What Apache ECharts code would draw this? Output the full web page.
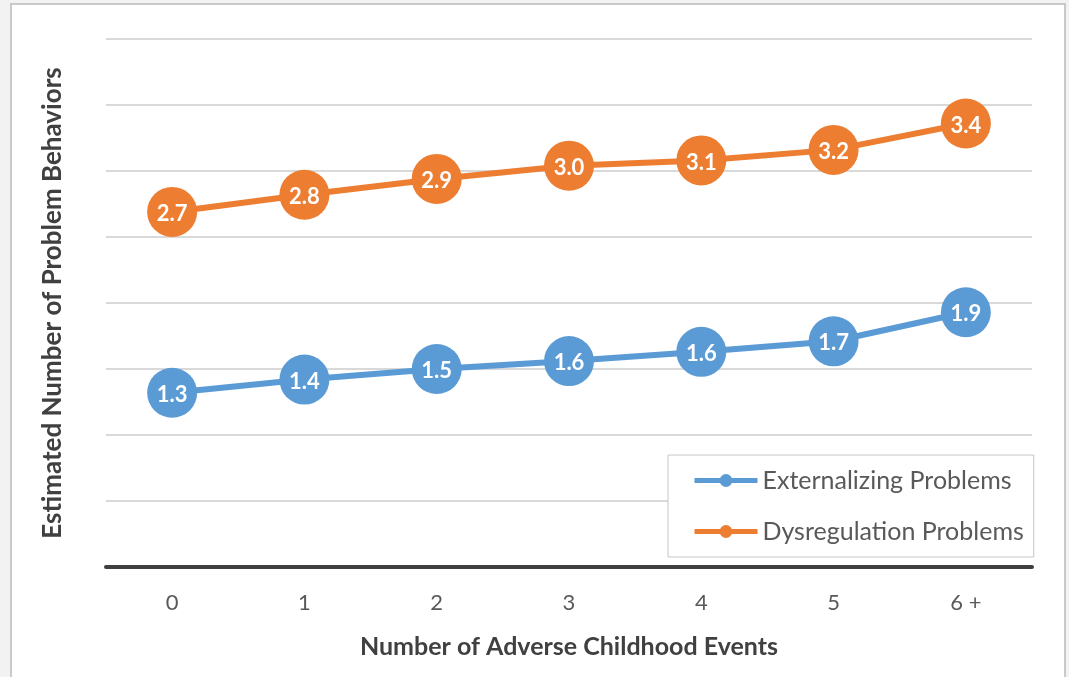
<!DOCTYPE html>
<html>
<head>
<meta charset="utf-8">
<script src="https://cdn.jsdelivr.net/npm/echarts@6/dist/echarts.min.js"></script>
<style>
  html, body { margin: 0; padding: 0; background: #f2f2f2; }
  #frame { position: absolute; left: 10px; top: 3px; width: 1052px; height: 690px;
           background: #ffffff; border: 2px solid #c9c9c9; }
  #chart { position: absolute; left: 0; top: 0; width: 1069px; height: 677px; }
</style>
</head>
<body>
<div id="frame"></div>
<div id="chart"></div>
<script>
// Number of adverse childhood events (x categories)
const categories = ['0', '1', '2', '3', '4', '5', '6 +'];

// Estimated number of problem behaviors per group
const externalizing = [1.32, 1.42, 1.50, 1.56, 1.63, 1.71, 1.93];
const dysregulation = [2.69, 2.82, 2.94, 3.04, 3.08, 3.16, 3.36];

const seriesNames = ['Externalizing Problems', 'Dysregulation Problems'];
const seriesColors = ['#5b9bd5', '#ed7d31'];

const FONT = 'Lato, "Open Sans", "DejaVu Sans", sans-serif';

function lineSeries(name, data, color) {
  return {
    name: name,
    type: 'line',
    data: data,
    symbol: 'circle',
    symbolSize: 50,
    lineStyle: { color: color, width: 6 },
    itemStyle: { color: color },
    label: {
      show: true,
      position: 'inside',
      align: 'center',
      verticalAlign: 'middle',
      offset: [0, 2],
      color: '#ffffff',
      fontFamily: FONT,
      fontWeight: 'bold',
      fontSize: 22,
      formatter: p => p.value.toFixed(1)
    },
    z: 3
  };
}

const chart = echarts.init(document.getElementById('chart'), null, { renderer: 'canvas' });
chart.setOption({
  backgroundColor: 'transparent',
  animation: false,
  grid: { left: 106, right: 37, top: 39, bottom: 110, containLabel: false },
  xAxis: {
    type: 'category',
    data: categories,
    boundaryGap: true,
    axisLine: { show: true, lineStyle: { color: '#3f3f3f', width: 4 } },
    axisTick: { show: false },
    axisLabel: { color: '#595959', fontFamily: FONT, fontSize: 22, margin: 25 },
    name: 'Number of Adverse Childhood Events',
    nameLocation: 'middle',
    nameGap: 67,
    nameTextStyle: { color: '#404040', fontFamily: FONT, fontWeight: 'bold', fontSize: 25 }
  },
  yAxis: {
    type: 'value',
    min: 0,
    max: 4,
    interval: 0.5,
    axisLine: { show: false },
    axisTick: { show: false },
    axisLabel: { show: false },
    splitLine: { lineStyle: { color: '#d9d9d9', width: 2 } },
    name: 'Estimated Number of Problem Behaviors',
    nameLocation: 'middle',
    nameGap: 40,
    nameRotate: 90,
    nameTextStyle: { color: '#404040', fontFamily: FONT, fontWeight: 'bold', fontSize: 26 }
  },
  legend: {
    orient: 'vertical',
    left: 668,
    top: 455,
    backgroundColor: '#ffffff',
    borderColor: '#c6c6c6',
    borderWidth: 1,
    padding: [13, 10, 13, 24],
    itemGap: 26,
    itemWidth: 63,
    itemHeight: 16,
    lineStyle: { width: 5 },
    textStyle: { color: '#595959', fontFamily: FONT, fontSize: 25 },
    data: seriesNames
  },
  series: [
    lineSeries(seriesNames[0], externalizing, seriesColors[0]),
    lineSeries(seriesNames[1], dysregulation, seriesColors[1])
  ]
});
</script>
</body>
</html>
